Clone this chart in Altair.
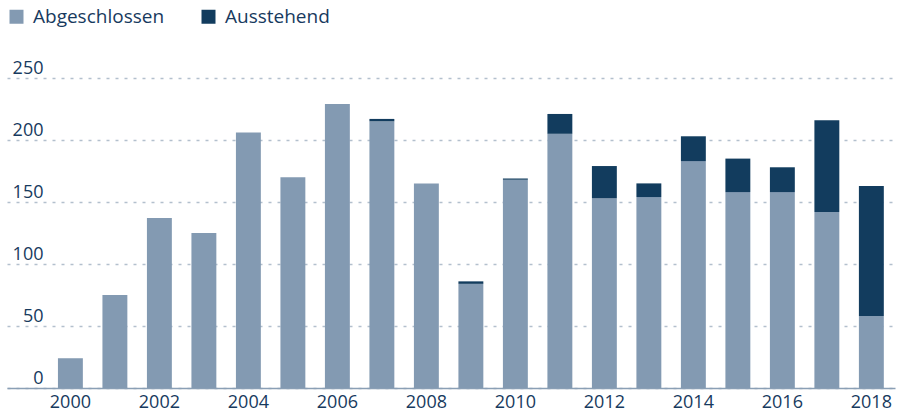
import altair as alt
import pandas as pd

years = [str(y) for y in range(2000, 2019)]
abgeschlossen = [24, 75, 137, 125, 206, 170, 229, 215, 165, 84, 168, 205, 153, 154, 183, 158, 158, 142, 58]
ausstehend = [0, 0, 0, 0, 0, 0, 0, 2, 0, 2, 1, 16, 26, 11, 20, 27, 20, 74, 105]
series = ["Abgeschlossen", "Ausstehend"]
colors = ["#839ab2", "#123c5e"]
x_labels = [str(y) for y in range(2000, 2019, 2)]
y_ticks = [0, 50, 100, 150, 200, 250]

rows = []
for i, y in enumerate(years):
    rows.append({"Jahr": y, "Status": series[0], "Wert": abgeschlossen[i], "ord": 0})
    rows.append({"Jahr": y, "Status": series[1], "Wert": ausstehend[i], "ord": 1})
df = pd.DataFrame(rows)

FONT = "Open Sans"
TXT = "#173a5e"

chart = alt.Chart(df).mark_bar().encode(
    x=alt.X("Jahr:N",
            scale=alt.Scale(paddingInner=0.44, paddingOuter=0.698, align=0.82),
            axis=alt.Axis(title=None, values=x_labels, labelAngle=0, ticks=False,
                          domainColor="#8a9fb5", domainWidth=1.5, labelPadding=5,
                          labelFontSize=18, labelColor=TXT, labelFont=FONT, grid=False)),
    y=alt.Y("Wert:Q", stack="zero",
            scale=alt.Scale(domain=[0, 250], nice=False),
            axis=alt.Axis(title=None, values=y_ticks, ticks=False, domain=False,
                          labelAlign="right", labelPadding=-36, labelBaseline="alphabetic",
                          labelOffset=-5, labelFontSize=18, labelColor=TXT, labelFont=FONT,
                          grid=True, gridColor="#b3c0cd", gridDash=[3, 6], gridWidth=1.5)),
    color=alt.Color("Status:N",
                    scale=alt.Scale(domain=series, range=colors),
                    legend=alt.Legend(title=None, orient="none", legendX=0, legendY=-71,
                                      direction="horizontal", symbolType="square",
                                      symbolSize=196, symbolStrokeWidth=0,
                                      labelFontSize=19, labelColor=TXT, labelFont=FONT,
                                      labelOffset=7, columnPadding=34)),
    order=alt.Order("ord:Q", sort="ascending"),
).properties(
    width=888, height=310,
    background="white",
    autosize=alt.AutoSizeParams(type="none"),
    padding={"left": 7, "top": 78, "right": 4, "bottom": 25},
).configure_view(strokeWidth=0, stroke="transparent")

chart.save("out.html", embed_options={"renderer": "svg", "actions": False})
